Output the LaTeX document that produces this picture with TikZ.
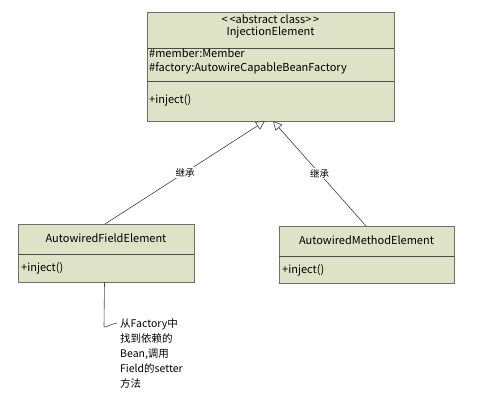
\documentclass[tikz,border=0pt]{standalone}
\usepackage{fontspec}
\setmainfont{Noto Sans CJK SC}
\usepackage{xcolor}
\usetikzlibrary{positioning,arrows.meta,calc}
\definecolor{classfill}{RGB}{222,226,198}
\definecolor{classedge}{RGB}{110,112,102}
\begin{document}
\begin{tikzpicture}[
		x=1pt, y=-1pt,
		font=\fontsize{11}{13}\selectfont,
		cls/.style={draw=classedge, fill=classfill, inner sep=0pt, anchor=north west},
		txt/.style={inner sep=0pt, anchor=west},
		sep/.style={draw=black!70, line width=0.6pt},
		inh/.style={-{Triangle[open, length=9pt, width=9pt, fill=white]}, line width=0.6pt, draw=black!75},
		lbl/.style={fill=white, inner sep=1pt, font=\fontsize{9.5}{11}\selectfont}
		]
		\useasboundingbox (0,0) rectangle (484,401);
		\fill[white] (0,0) rectangle (484,401);
		% abstract parent class
		\node[cls, minimum width=247pt, minimum height=109pt] (inj) at (147,12) {};
		\draw[sep] (147,48) -- (394,48);
		\draw[sep] (147,81) -- (394,81);
		\node[inner sep=0pt] (stereo) at (270.5,19.5) {<\,<abstract class>\,>};
		\node[inner sep=0pt] (injname) at (270.5,32.5) {InjectionElement};
		\node[txt] (attr1) at (149,53.5) {\#member:Member};
		\node[txt] (attr2) at (149,68) {\#factory:AutowireCapableBeanFactory};
		\node[txt] (op1) at (149,100) {+inject()};
		% field element
		\node[cls, minimum width=176pt, minimum height=58pt] (field) at (18,224) {};
		\draw[sep] (18,254) -- (194,254);
		\node[inner sep=0pt] (fieldname) at (106,238.5) {AutowiredFieldElement};
		\node[txt] (op2) at (21,268.5) {+inject()};
		% method element
		\node[cls, minimum width=175pt, minimum height=57pt] (method) at (279,226) {};
		\draw[sep] (279,256) -- (454,256);
		\node[inner sep=0pt] (methodname) at (366.5,240.5) {AutowiredMethodElement};
		\node[txt] (op3) at (282,270) {+inject()};
		% note
		\node[anchor=north west, align=left, inner sep=0pt,
			font=\fontsize{10.5}{15}\selectfont] (note) at (120,318)
		{从Factory中\\找到依赖的\\Bean,调用\\Field的setter\\方法};
		% inheritance
		\coordinate (tipa) at (265,121);
		\coordinate (tipb) at (273,121);
		\coordinate (fieldtop) at (105,224);
		\coordinate (methodtop) at (366,226);
		\draw[inh] (fieldtop) -- node[lbl] {继承} (tipa);
		\draw[inh] (methodtop) -- node[lbl] {继承} (tipb);
		\coordinate (notetop) at (104.5,282);
		\coordinate (notehook) at (117,323);
		\draw[line width=0.6pt, draw=black!70] (notetop) -- (104,326)
			.. controls (104,329) and (108,325) .. (notehook);
	\end{tikzpicture}
\end{document}
